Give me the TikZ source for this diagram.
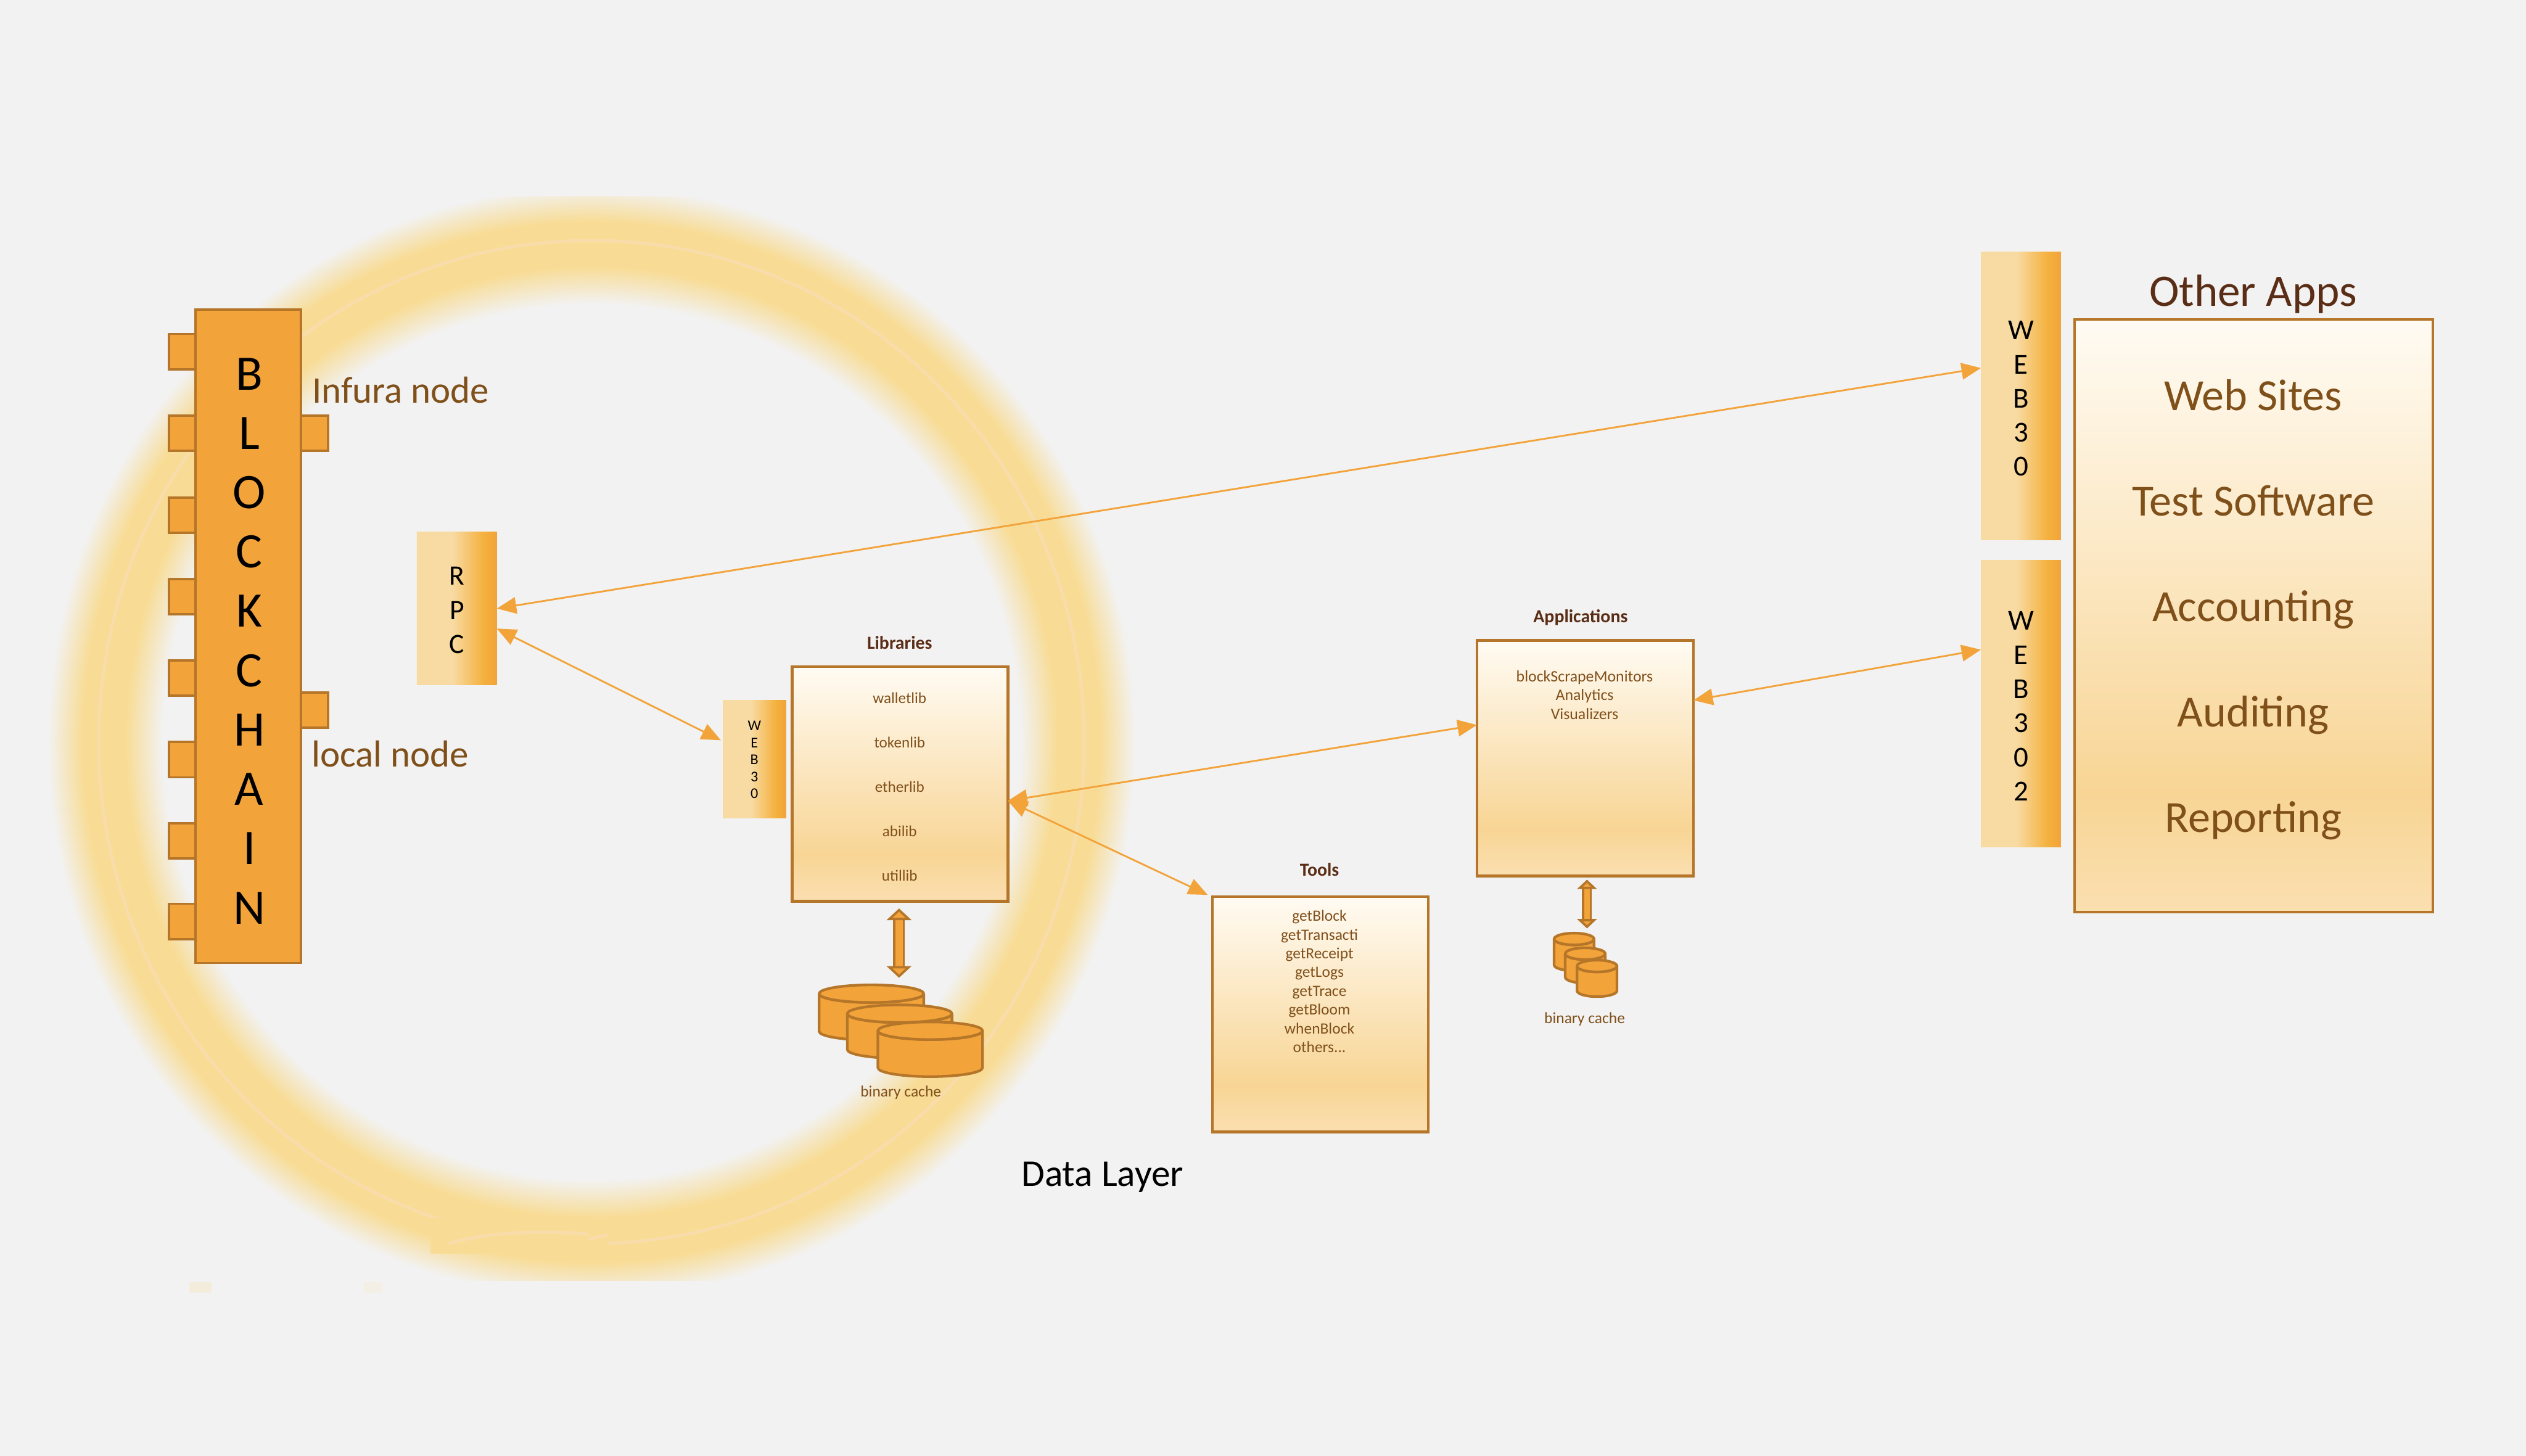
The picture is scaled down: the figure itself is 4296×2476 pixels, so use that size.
\documentclass[tikz,border=0pt]{standalone}
\usepackage{fontspec}
\setmainfont{Carlito}
\usetikzlibrary{arrows.meta}

\definecolor{pagebg}{HTML}{F2F2F2}
\definecolor{edge}{HTML}{B5762A}
\definecolor{chipfill}{HTML}{F2A33A}
\definecolor{glow}{HTML}{F8DC96}
\definecolor{glowline}{HTML}{F8DCAC}
\definecolor{itemtext}{HTML}{80501B}
\definecolor{headtext}{HTML}{5A2D16}
\definecolor{paneltop}{HTML}{FFFBF3}
\definecolor{panelmid}{HTML}{F8D595}
\definecolor{panellow}{HTML}{FADFB0}
\definecolor{stripea}{HTML}{F8DBA3}
\definecolor{stripeb}{HTML}{F4B03C}

\pgfdeclareverticalshading{panelfill}{100bp}{color(0bp)=(panellow); color(25bp)=(panellow);
  color(35bp)=(panelmid); color(75bp)=(paneltop); color(100bp)=(paneltop)}
\pgfdeclarehorizontalshading{stripefill}{100bp}{color(0bp)=(stripea); color(47bp)=(stripea);
  color(67bp)=(stripeb); color(75bp)=(chipfill); color(100bp)=(chipfill)}
\pgfdeclareradialshading{ringglow}{\pgfpoint{0bp}{0bp}}{color(0bp)=(pagebg); color(19.7bp)=(pagebg);
  color(21.4bp)=(glow); color(23.4bp)=(glow); color(25bp)=(pagebg); color(50bp)=(pagebg)}

\begin{document}
\begin{tikzpicture}[x=0.01cm, y=-0.01cm, >={Triangle[length=0.33cm, width=0.28cm]}]
  \tikzset{
    chip/.style={rectangle, draw=edge, fill=chipfill, line width=0.04cm, inner sep=0pt, outer sep=0pt},
    panel/.style={rectangle, draw=edge, shade, shading=panelfill, line width=0.05cm, inner sep=0pt, outer sep=0pt},
    stripe/.style={rectangle, shade, shading=stripefill, inner sep=0pt, outer sep=0pt},
    stack/.style={align=center, inner sep=0pt},
    disk/.style={draw=edge, fill=chipfill, line width=0.045cm, line join=round},
    itemlist/.style={text=itemtext, align=center, inner sep=0pt},
    heading/.style={text=headtext, anchor=base, inner sep=0pt, font=\fontsize{8.9}{11}\selectfont\bfseries},
    smalltext/.style={font=\fontsize{7.6}{9}\selectfont},
    nodename/.style={anchor=base west, inner sep=0pt, text=itemtext, font=\fontsize{18.2}{22}\selectfont},
    link/.style={<->, draw=chipfill, line width=0.03cm},
    bigarrow/.style={double=chipfill, draw=edge, line width=0.04cm, double distance=0.12cm,
      {Triangle[length=0.2cm, width=0.42cm, fill=chipfill]}-{Triangle[length=0.2cm, width=0.42cm, fill=chipfill]}},
    smallarrow/.style={double=chipfill, draw=edge, line width=0.04cm, double distance=0.09cm,
      {Triangle[length=0.16cm, width=0.33cm, fill=chipfill]}-{Triangle[length=0.16cm, width=0.33cm, fill=chipfill]}}
  }

  % page and glow
  \fill[pagebg] (0,0) rectangle (4296,2476);
  \begin{scope}
    \clip (0,334) rectangle (4296,2178);
    \shade[shading=ringglow] (1006,1262) ellipse (925 and 945);
  \end{scope}
  \draw[glowline, line width=0.05cm] (1006,1262) ellipse (838 and 853);
  \fill[glow] (732,2089) rectangle (1033,2132);
  \fill[glow] (763,2068) rectangle (1001,2126);
  \fill[glow] (732,2071) rectangle (763,2125);
  \draw[glowline, line width=0.05cm] (763,2115) .. controls (830,2095) and (920,2092) .. (1001,2099);
  \draw[glowline, line width=0.05cm] (1001,2108) -- (1033,2100);
  \fill[glow!25!pagebg] (322,2181) rectangle (360,2198);
  \fill[glow!15!pagebg] (619,2181) rectangle (650,2198);

  % blockchain
  \foreach \i/\y in {1/598,2/737,3/876,4/1015,5/1153,6/1292,7/1430,8/1567}
    \node[chip, minimum width=0.46cm, minimum height=0.6cm] (left\i) at (310,\y) {};
  \node[chip, minimum width=0.46cm, minimum height=0.6cm] (infuraport) at (535,737) {};
  \node[chip, minimum width=0.46cm, minimum height=0.6cm] (localport) at (535,1208) {};
  \node[chip, minimum width=1.79cm, minimum height=11.11cm] (chain) at (422,1082) {};
  \node[stack, font=\fontsize{24}{28.7}\selectfont] (chaintext) at (424,1090) {B\\L\\O\\C\\K\\C\\H\\A\\I\\N};
  \node[nodename] (infura) at (530,685) {Infura node};
  \node[nodename] (local) at (529,1304) {local node};

  % rpc and web3 stripes
  \node[stripe, minimum width=1.36cm, minimum height=2.6cm] (rpc) at (777,1035) {};
  \node[stack, font=\fontsize{13.6}{16.5}\selectfont] (rpctext) at (777,1038) {R\\P\\C};
  \node[stripe, minimum width=1.07cm, minimum height=2cm] (webleft) at (1283.5,1291) {};
  \node[stack, font=\fontsize{7.2}{8.2}\selectfont] (weblefttext) at (1283,1292) {W\\E\\B\\3\\0};
  \node[stripe, minimum width=1.36cm, minimum height=4.89cm] (webtop) at (3437,673.5) {};
  \node[stack, font=\fontsize{14}{16.5}\selectfont] (webtoptext) at (3437,678) {W\\E\\B\\3\\0};
  \node[stripe, minimum width=1.36cm, minimum height=4.87cm] (webnext) at (3437,1196.5) {};
  \node[stack, font=\fontsize{14}{16.5}\selectfont] (webnexttext) at (3437,1201) {W\\E\\B\\3\\0\\2};

  % libraries
  \node[panel, minimum width=3.67cm, minimum height=3.99cm] (libs) at (1530.5,1333.5) {};
  \node[heading] (libshead) at (1530,1104) {Libraries};
  \node[itemlist, font=\fontsize{7.5}{21.5}\selectfont] (libslist) at (1530,1338) {walletlib\\tokenlib\\etherlib\\abilib\\utillib};
  \foreach \x/\t/\b in {1482/1690/1754,1530/1724/1785,1582/1753/1816} {
    \filldraw[disk] (\x-89,\t) -- (\x-89,\b) arc (180:0:89 and 15) -- (\x+89,\t) arc (0:180:89 and 15) -- cycle;
    \draw[disk] (\x,\t) ellipse (89 and 15);
  }
  \node[anchor=base, inner sep=0pt, text=itemtext, smalltext] (libscachetext) at (1532,1865) {binary cache};

  % tools
  \node[panel, minimum width=3.67cm, minimum height=4cm] (tools) at (2245.5,1725) {};
  \node[heading] (toolshead) at (2244,1490) {Tools};
  \node[itemlist, font=\fontsize{7.6}{9.07}\selectfont] (toolslist) at (2244,1669)
    {getBlock\\getTransacti\\getReceipt\\getLogs\\getTrace\\getBloom\\whenBlock\\others...};

  % applications
  \node[panel, minimum width=3.68cm, minimum height=4.01cm] (apps) at (2696,1289.5) {};
  \node[heading] (appshead) at (2688,1059) {Applications};
  \node[itemlist, font=\fontsize{7.7}{9.1}\selectfont] (appslist) at (2695,1182) {blockScrapeMonitors\\Analytics\\Visualizers};
  \foreach \x/\t/\b in {2677/1597/1641,2696/1622/1662,2716/1643/1685} {
    \filldraw[disk] (\x-34,\t) -- (\x-34,\b) arc (180:0:34 and 10) -- (\x+34,\t) arc (0:180:34 and 10) -- cycle;
    \draw[disk] (\x,\t) ellipse (34 and 10);
  }
  \node[anchor=base, inner sep=0pt, text=itemtext, smalltext] (appscachetext) at (2695,1740) {binary cache};

  % other apps
  \node[panel, line width=0.04cm, minimum width=6.09cm, minimum height=10.07cm] (other) at (3832.5,1047.5) {};
  \node[anchor=base, inner sep=0pt, text=headtext, font=\fontsize{21.8}{26}\selectfont] (otherhead) at (3832,521) {Other Apps};
  \node[itemlist, font=\fontsize{21.5}{51}\selectfont] (otherlist) at (3832,1037)
    {Web Sites\\Test Software\\Accounting\\Auditing\\Reporting};

  \node[anchor=base, inner sep=0pt, font=\fontsize{18.3}{22}\selectfont] (datalayer) at (1875,2017) {Data Layer};

  \coordinate (libsarrowtop) at (1529,1545);
  \coordinate (libsarrowlow) at (1529,1663);
  \coordinate (appsarrowtop) at (2699,1496);
  \coordinate (appsarrowlow) at (2699,1579);

  \draw[bigarrow] (libsarrowtop) -- (libsarrowlow);
  \draw[smallarrow] (appsarrowtop) -- (appsarrowlow);

  \draw[link] (rpc.east) -- ([yshift=0.475cm]webtop.west);
  \draw[link] ([yshift=-0.34cm]rpc.east) -- ([xshift=-0.04cm,yshift=0.32cm]webleft.west);
  \draw[link] ([yshift=-0.285cm]libs.east) -- ([yshift=0.565cm]apps.west);
  \draw[link] ([yshift=-0.285cm]libs.east) -- ([xshift=-0.08cm,yshift=0.03cm]tools.north west);
  \draw[link] ([yshift=0.985cm]apps.east) -- ([yshift=0.915cm]webnext.west);
\end{tikzpicture}
\end{document}
